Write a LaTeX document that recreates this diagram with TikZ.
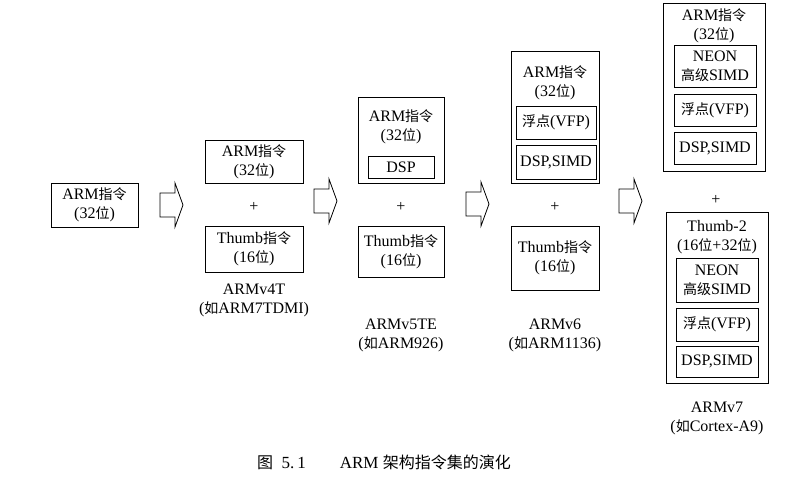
\documentclass[tikz,border=0pt]{standalone}
\usepackage{fontspec}
\setmainfont{Liberation Serif}
\newfontfamily\cjk{Noto Sans CJK SC}
\usetikzlibrary{positioning}
\newcommand{\zh}[1]{{\cjk\fontsize{14}{16}\selectfont #1}}
\tikzstyle{blk}=[draw,line width=0.8pt,inner sep=0,align=center,font=\fontsize{16}{19}\selectfont]
\tikzstyle{txt}=[inner sep=0,align=center,font=\fontsize{16}{19}\selectfont]

\begin{document}
\begin{tikzpicture}[x=1pt,y=-1pt,
    plus/.style={txt},
    sub/.style={blk}
    ]
    \useasboundingbox (0,0) rectangle (790,480);

    % ARM
    \node [blk,minimum width=87,minimum height=44] (a0) at (94.5,205) {ARM\zh{指令}\\(32\zh{位})};

    % ARMv4T
    \node [blk,minimum width=98,minimum height=43] (b1) at (254,161.5) {ARM\zh{指令}\\(32\zh{位})};
    \node [plus] (bp) at (254,207) {+};
    \node [blk,minimum width=98,minimum height=46] (b2) at (254,249) {Thumb\zh{指令}\\(16\zh{位})};
    \node [txt] (bl) at (254,300) {ARMv4T\\(\zh{如}ARM7TDMI)};

    % ARMv5TE
    \node [blk,minimum width=86,minimum height=86] (c1) at (401,140) {};
    \node [txt] (ct) at (401,127) {ARM\zh{指令}\\(32\zh{位})};
    \node [sub,minimum width=66,minimum height=22] (cd) at (401,167) {DSP};
    \node [plus] (cp) at (401,207) {+};
    \node [blk,minimum width=86,minimum height=51] (c2) at (401,251.5) {Thumb\zh{指令}\\(16\zh{位})};
    \node [txt] (cl) at (401,335) {ARMv5TE\\(\zh{如}ARM926)};

    % ARMv6
    \node [blk,minimum width=88,minimum height=132] (d1) at (555,117) {};
    \node [txt] (dt) at (555,83) {ARM\zh{指令}\\(32\zh{位})};
    \node [sub,minimum width=80,minimum height=33] (df) at (556,122.5) {\zh{浮点}(VFP)};
    \node [sub,minimum width=80,minimum height=34] (dd) at (556,162) {DSP,SIMD};
    \node [plus] (dp) at (555,207) {+};
    \node [blk,minimum width=88,minimum height=64] (d2) at (555,258) {Thumb\zh{指令}\\(16\zh{位})};
    \node [txt] (dl) at (555,335) {ARMv6\\(\zh{如}ARM1136)};

    % ARMv7
    \node [blk,minimum width=102,minimum height=168] (e1) at (714,87) {};
    \node [txt] (et) at (714,26) {ARM\zh{指令}\\(32\zh{位})};
    \node [sub,minimum width=82,minimum height=42] (en) at (715,66) {NEON\\\zh{高级}SIMD};
    \node [sub,minimum width=82,minimum height=32] (ef) at (715,110) {\zh{浮点}(VFP)};
    \node [sub,minimum width=82,minimum height=32] (ed) at (715,148) {DSP,SIMD};
    \node [plus] (ep) at (716,200) {+};
    \node [blk,minimum width=102,minimum height=171] (e2) at (717,297.5) {};
    \node [txt] (et2) at (717,237) {Thumb-2\\(16\zh{位}+32\zh{位})};
    \node [sub,minimum width=82,minimum height=44] (en2) at (717,280) {NEON\\\zh{高级}SIMD};
    \node [sub,minimum width=82,minimum height=33] (ef2) at (717,324.5) {\zh{浮点}(VFP)};
    \node [sub,minimum width=82,minimum height=31] (ed2) at (717,361.5) {DSP,SIMD};
    \node [txt] (el) at (717,418) {ARMv7\\(\zh{如}Cortex-A9)};

    % block arrows
    \foreach \x/\y in {160/205, 314/201, 466/204, 619/201} {
      \draw [line width=0.8pt] (\x,\y-12) -- ++(15,0) -- ++(0,-10) -- ++(8,22)
        -- ++(-8,22) -- ++(0,-10) -- ++(-15,0) -- cycle;
    }

    % caption
    \node [txt,font=\fontsize{17}{20}\selectfont] (cap) at (384,462)
      {{\cjk\fontsize{16}{18}\selectfont 图}\ \ 5.\,1\qquad ARM\ {\cjk\fontsize{16}{18}\selectfont 架构指令集的演化}};
\end{tikzpicture}
\end{document}
